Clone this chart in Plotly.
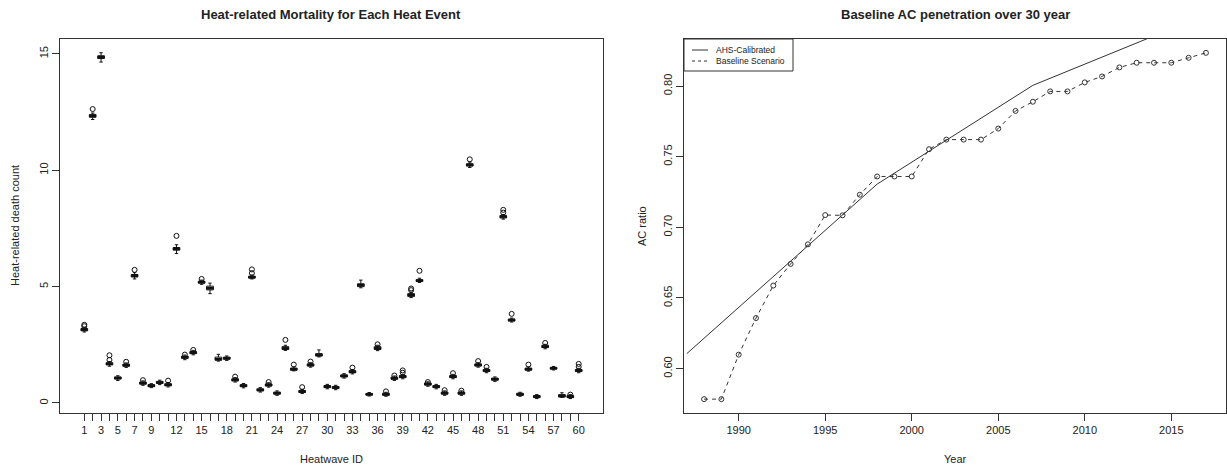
import plotly.graph_objects as go

# ---------------- Left panel: boxplot data ----------------
heatwave_ids = list(range(1, 61))
shown_labels = [1, 3, 5, 7, 9, 12, 15, 18, 21, 24, 27, 30, 33, 36, 39, 42, 45, 48, 51, 54, 57, 60]

q1 = [3.10, 12.28, 14.80, 1.64, 1.03, 1.58, 5.42, 0.81, 0.70, 0.84,
      0.74, 6.57, 1.92, 2.12, 5.15, 4.86, 1.84, 1.88, 0.95, 0.70,
      5.37, 0.52, 0.73, 0.38, 2.30, 1.41, 0.45, 1.59, 2.02, 0.66,
      0.62, 1.12, 1.30, 5.00, 0.34, 2.30, 0.33, 1.02, 1.09, 4.58,
      5.22, 0.77, 0.66, 0.38, 1.09, 0.38, 10.18, 1.59, 1.35, 0.98,
      7.95, 3.52, 0.33, 1.41, 0.23, 2.38, 1.46, 0.26, 0.23, 1.35]
median = [3.15, 12.33, 14.86, 1.68, 1.07, 1.62, 5.46, 0.85, 0.74, 0.88,
          0.78, 6.62, 1.96, 2.16, 5.19, 4.93, 1.88, 1.92, 0.99, 0.74,
          5.40, 0.56, 0.77, 0.42, 2.35, 1.45, 0.49, 1.63, 2.06, 0.70,
          0.66, 1.16, 1.34, 5.07, 0.37, 2.35, 0.37, 1.06, 1.13, 4.64,
          5.26, 0.81, 0.70, 0.42, 1.13, 0.42, 10.23, 1.63, 1.39, 1.02,
          8.01, 3.57, 0.37, 1.45, 0.27, 2.42, 1.49, 0.30, 0.27, 1.39]
q3 = [3.20, 12.40, 14.92, 1.73, 1.12, 1.67, 5.52, 0.90, 0.79, 0.93,
      0.83, 6.68, 2.01, 2.21, 5.23, 5.02, 1.97, 1.97, 1.04, 0.79,
      5.45, 0.61, 0.82, 0.47, 2.42, 1.50, 0.54, 1.68, 2.12, 0.75,
      0.71, 1.21, 1.39, 5.12, 0.41, 2.42, 0.42, 1.11, 1.18, 4.70,
      5.30, 0.86, 0.75, 0.47, 1.18, 0.47, 10.28, 1.68, 1.44, 1.07,
      8.05, 3.60, 0.42, 1.50, 0.32, 2.48, 1.53, 0.36, 0.32, 1.44]
lower_whisker = [3.05, 12.18, 14.65, 1.58, 0.97, 1.53, 5.33, 0.76, 0.66, 0.79,
                 0.69, 6.42, 1.86, 2.07, 5.10, 4.70, 1.80, 1.83, 0.90, 0.65,
                 5.33, 0.47, 0.68, 0.33, 2.26, 1.38, 0.41, 1.54, 1.98, 0.61,
                 0.57, 1.07, 1.25, 4.95, 0.30, 2.25, 0.29, 0.97, 1.04, 4.53,
                 5.18, 0.72, 0.61, 0.33, 1.04, 0.33, 10.12, 1.54, 1.30, 0.93,
                 7.90, 3.48, 0.29, 1.37, 0.19, 2.33, 1.42, 0.24, 0.19, 1.30]
upper_whisker = [3.25, 12.46, 15.05, 1.78, 1.17, 1.72, 5.60, 0.95, 0.83, 0.98,
                 0.88, 6.80, 2.06, 2.26, 5.28, 5.15, 2.09, 2.02, 1.09, 0.84,
                 5.50, 0.66, 0.87, 0.52, 2.48, 1.55, 0.59, 1.73, 2.28, 0.80,
                 0.76, 1.26, 1.44, 5.28, 0.45, 2.48, 0.46, 1.16, 1.23, 4.76,
                 5.36, 0.91, 0.80, 0.52, 1.23, 0.52, 10.35, 1.73, 1.49, 1.12,
                 8.10, 3.65, 0.46, 1.55, 0.36, 2.52, 1.57, 0.44, 0.36, 1.49]

outlier_ids = [1, 1, 2, 4, 4, 6, 7, 8, 11, 12, 13, 14, 15, 19, 21, 21, 23, 25, 26, 27,
               28, 33, 36, 37, 38, 39, 39, 40, 40, 41, 42, 44, 45, 46, 47, 48, 49,
               51, 51, 52, 54, 56, 59, 60, 60]
outlier_vals = [3.30, 3.36, 12.63, 1.85, 2.05, 1.77, 5.72, 0.98, 0.96, 7.18, 2.08, 2.28,
                5.33, 1.13, 5.58, 5.74, 0.90, 2.71, 1.65, 0.68, 1.78, 1.52, 2.52, 0.50,
                1.18, 1.30, 1.40, 4.85, 4.92, 5.68, 0.90, 0.55, 1.28, 0.53, 10.47, 1.80,
                1.55, 8.18, 8.30, 3.83, 1.65, 2.58, 0.36, 1.55, 1.68]

# ---------------- Right panel: AC penetration ----------------
years = list(range(1988, 2018))
baseline = [0.5784, 0.5784, 0.6099, 0.6358, 0.6588, 0.6741, 0.6880, 0.7087, 0.7085, 0.7231,
            0.7360, 0.7360, 0.7360, 0.7553, 0.7621, 0.7621, 0.7621, 0.7699, 0.7824, 0.7889,
            0.7962, 0.7962, 0.8026, 0.8068, 0.8132, 0.8165, 0.8165, 0.8165, 0.8200, 0.8235]
ahs_years = [1987, 1998, 2007, 2019]
ahs_vals = [0.6106, 0.7306, 0.8005, 0.8605]
legend_names = ["AHS-Calibrated", "Baseline Scenario"]

FONT = "Liberation Sans, Arial, sans-serif"
INK = "#222222"
W, H = 1227, 470

fig = go.Figure()

fig.add_trace(go.Box(
    x=heatwave_ids, q1=q1, median=median, q3=q3,
    lowerfence=lower_whisker, upperfence=upper_whisker,
    boxpoints=False, width=0.8, whiskerwidth=0.5,
    line=dict(color="#111111", width=1), fillcolor="white",
    xaxis="x", yaxis="y", showlegend=False, hoverinfo="skip"))

# thick median bars (R style)
mx, my = [], []
for i, m in zip(heatwave_ids, median):
    mx += [i - 0.4, i + 0.4, None]
    my += [m, m, None]
fig.add_trace(go.Scatter(x=mx, y=my, mode="lines", line=dict(color="#111111", width=2.5),
                         xaxis="x", yaxis="y", showlegend=False, hoverinfo="skip"))

fig.add_trace(go.Scatter(x=outlier_ids, y=outlier_vals, mode="markers",
                         marker=dict(symbol="circle-open", size=5, color="#111111", line=dict(width=1)),
                         xaxis="x", yaxis="y", showlegend=False, hoverinfo="skip"))

fig.add_trace(go.Scatter(x=ahs_years, y=ahs_vals, mode="lines", name=legend_names[0],
                         line=dict(color="#333333", width=1), xaxis="x2", yaxis="y2",
                         showlegend=False))
fig.add_trace(go.Scatter(x=years, y=baseline, mode="lines+markers", name=legend_names[1],
                         line=dict(color="#333333", width=1, dash="4px,4px"),
                         marker=dict(symbol="circle-open", size=5, color="#333333", line=dict(width=1)),
                         xaxis="x2", yaxis="y2", showlegend=False))

ydom = [(H - 413) / H, (H - 39) / H]
axis_common = dict(showline=True, mirror=True, linecolor="#333333", linewidth=1,
                   ticks="outside", ticklen=7, tickcolor="#333333", tickwidth=1,
                   showgrid=False, zeroline=False,
                   tickfont=dict(family=FONT, size=11, color=INK))

def px_x(v):
    return v / W

def px_y(v):
    return (H - v) / H

# hand-drawn R-style legend box (top-left of right panel)
shapes = [
    dict(type="rect", xref="paper", yref="paper", x0=px_x(684), x1=px_x(793), y0=px_y(71), y1=px_y(39),
         line=dict(color="#333333", width=1), fillcolor="white", layer="above"),
    dict(type="line", xref="paper", yref="paper", x0=px_x(692), x1=px_x(708), y0=px_y(50), y1=px_y(50),
         line=dict(color="#333333", width=1), layer="above"),
    dict(type="line", xref="paper", yref="paper", x0=px_x(692), x1=px_x(708), y0=px_y(61), y1=px_y(61),
         line=dict(color="#333333", width=1, dash="3px,3px"), layer="above"),
]

annotations = [
    dict(text="<b>Heat-related Mortality for Each Heat Event</b>", x=px_x(331), y=px_y(14),
         font=dict(size=13, family=FONT, color=INK)),
    dict(text="<b>Baseline AC penetration over 30 year</b>", x=px_x(955), y=px_y(14),
         font=dict(size=13, family=FONT, color=INK)),
    dict(text="Heatwave ID", x=px_x(331), y=px_y(459), font=dict(size=11, family=FONT, color=INK)),
    dict(text="Year", x=px_x(955), y=px_y(459), font=dict(size=11, family=FONT, color=INK)),
    dict(text="Heat-related death count", x=px_x(15), y=px_y(226), textangle=-90,
         font=dict(size=11, family=FONT, color=INK)),
    dict(text="AC ratio", x=px_x(642), y=px_y(226), textangle=-90,
         font=dict(size=11, family=FONT, color=INK)),
    dict(text=legend_names[0], x=px_x(714), y=px_y(50), xanchor="left",
         font=dict(size=8.5, family=FONT, color=INK)),
    dict(text=legend_names[1], x=px_x(714), y=px_y(61), xanchor="left",
         font=dict(size=8.5, family=FONT, color=INK)),
]
for a in annotations:
    a.setdefault("xanchor", "center")
    a.update(yanchor="middle", xref="paper", yref="paper", showarrow=False)

fig.update_layout(
    width=W, height=H, autosize=False,
    margin=dict(l=0, r=0, t=0, b=0),
    paper_bgcolor="white", plot_bgcolor="white",
    font=dict(family=FONT, color=INK),
    showlegend=False,
    xaxis=dict(domain=[60 / W, 603 / W], range=[-1.9, 62.9], anchor="y",
               tickvals=heatwave_ids,
               ticktext=[str(i) if i in shown_labels else "" for i in heatwave_ids],
               tickangle=0, **axis_common),
    yaxis=dict(domain=ydom, range=[-0.43, 15.64], anchor="x",
               tickvals=[0, 5, 10, 15], tickangle=-90, **axis_common),
    xaxis2=dict(domain=[684 / W, 1226 / W], range=[1986.84, 2018.16], anchor="y2",
                tickvals=[1990, 1995, 2000, 2005, 2010, 2015], tickangle=0, **axis_common),
    yaxis2=dict(domain=ydom, range=[0.5686, 0.8333], anchor="x2",
                tickvals=[0.60, 0.65, 0.70, 0.75, 0.80],
                ticktext=["0.60", "0.65", "0.70", "0.75", "0.80"], tickangle=-90, **axis_common),
    shapes=shapes,
    annotations=annotations,
)

fig.write_html("out.html", config={"displayModeBar": False},
               post_script="document.body.style.margin='0';")
